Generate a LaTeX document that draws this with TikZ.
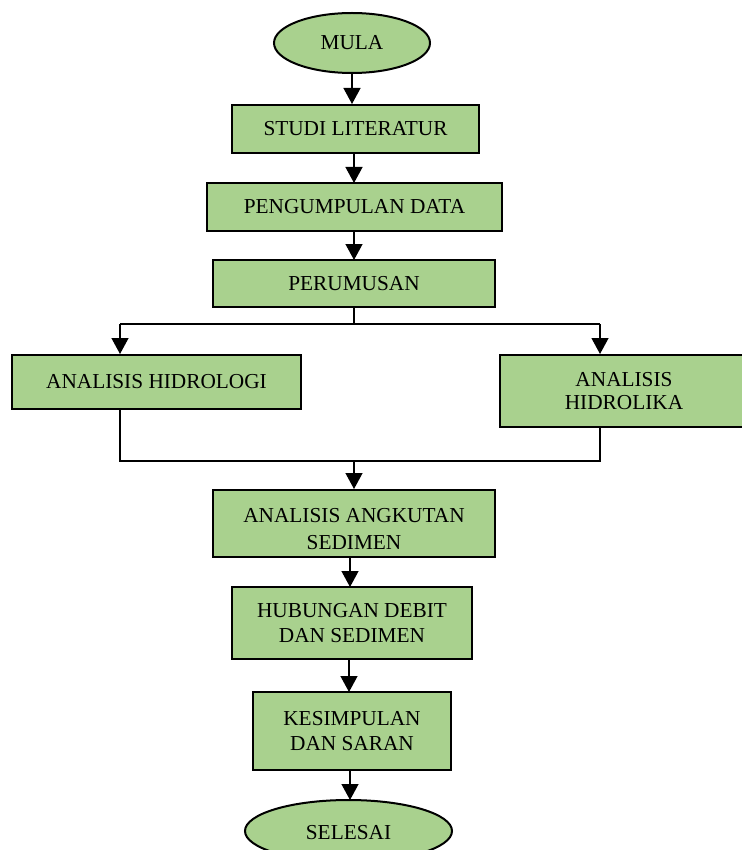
\documentclass[tikz,border=0pt]{standalone}
\usepackage{fontspec}
\setmainfont{Liberation Serif}
\usetikzlibrary{shapes.geometric,arrows.meta}
\definecolor{boxgreen}{RGB}{169,209,142}
\tikzset{
  flowbox/.style={draw=black,line width=2pt,fill=boxgreen,rectangle,inner sep=0pt,align=center,font=\fontsize{21.3}{25}\selectfont},
  termnode/.style={draw=black,line width=2pt,fill=boxgreen,ellipse,inner sep=0pt,align=center,font=\fontsize{21.3}{25}\selectfont},
  lbl/.style={inner sep=0pt,align=center,font=\fontsize{21.3}{27}\selectfont},
  conn/.style={draw=black,line width=1.3pt},
  arr/.style={conn,-{Triangle[length=16pt,width=17pt]}}
}
\begin{document}
\begin{tikzpicture}[x=1pt,y=-1pt]
\useasboundingbox (0,0) rectangle (741,850);
\node[termnode,minimum width=156,minimum height=60] (mula) at (352,43) {MULA};
\node[flowbox,minimum width=247,minimum height=48] (studi) at (355.5,129) {STUDI LITERATUR};
\node[flowbox,minimum width=295,minimum height=48] (data) at (354.5,207) {PENGUMPULAN DATA};
\node[flowbox,minimum width=282,minimum height=47] (perum) at (354,283.5) {PERUMUSAN};
\node[flowbox,minimum width=289,minimum height=54] (hidrologi) at (156.5,382) {ANALISIS HIDROLOGI};
\node[flowbox,minimum width=248,minimum height=72,font=\fontsize{21.3}{23}\selectfont] (hidrolika) at (624,391) {ANALISIS\\HIDROLIKA};
\node[flowbox,minimum width=282,minimum height=67] (angkutan) at (354,523.5) {};
\node[lbl] (angkutantext) at (354,529) {ANALISIS ANGKUTAN\\SEDIMEN};
\node[flowbox,minimum width=240,minimum height=72] (hubungan) at (352,623) {HUBUNGAN DEBIT\\DAN SEDIMEN};
\node[flowbox,minimum width=198,minimum height=78] (kesimpulan) at (352,731) {KESIMPULAN\\DAN SARAN};
\node[termnode,minimum width=207,minimum height=62] (selesai) at (348.5,831) {};
\node[lbl] (selesaitext) at (348.5,833) {SELESAI};

\coordinate (split) at (354,324);
\coordinate (splitL) at (120,324);
\coordinate (splitR) at (600,324);
\coordinate (joinL) at (120,461);
\coordinate (joinR) at (600,461);
\coordinate (joinC) at (354,461);

\draw[arr] (mula.south) -- (mula.south |- studi.north);
\draw[arr] (354,153) -- (354,183);
\draw[arr] (354,231) -- (354,260);
\draw[conn] (perum.south -| split) -- (split);
\draw[conn] (splitL) -- (splitR);
\draw[arr] (splitL) -- (splitL |- hidrologi.north);
\draw[arr] (splitR) -- (splitR |- hidrolika.north);
\draw[conn] (joinL |- hidrologi.south) -- (joinL) -- (joinR) -- (joinR |- hidrolika.south);
\draw[arr] (joinC) -- (joinC |- angkutan.north);
\draw[arr] (350,557) -- (350,587);
\draw[arr] (349,659) -- (349,692);
\draw[arr] (350,770) -- (350,800);
\end{tikzpicture}
\end{document}
